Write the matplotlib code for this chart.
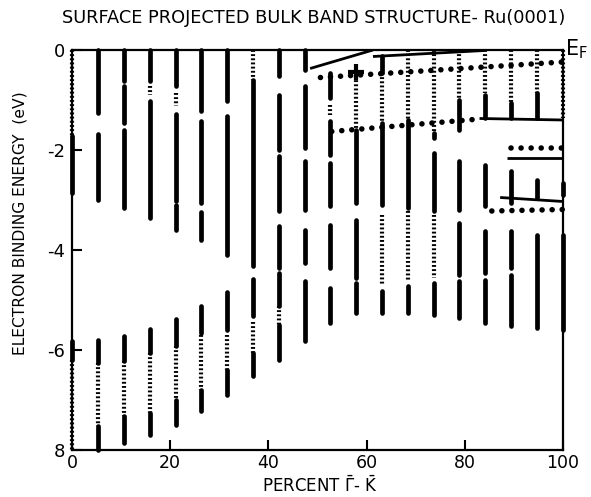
import matplotlib
matplotlib.use('Agg')
import matplotlib.pyplot as plt

# k-point columns along Gamma-K (percent)
k_percent = [0, 5.3, 10.5, 15.8, 21.1, 26.3, 31.6, 36.8, 42.1, 47.4,
             52.6, 57.9, 63.2, 68.4, 73.7, 78.9, 84.2, 89.5, 94.7, 100]

# densely filled bulk band ranges for each column, (top, bottom) in eV
dense_bands = [
    [(-1.73, -2.87), (-5.83, -6.2)],
    [(0.0, -1.27), (-1.69, -3.0), (-5.8, -6.27), (-7.53, -8.0)],
    [(0.0, -0.63), (-0.73, -1.47), (-1.61, -3.17), (-5.73, -6.23), (-7.33, -7.87)],
    [(0.0, -0.63), (-1.02, -3.37), (-5.59, -6.07), (-7.27, -7.7)],
    [(0.0, -0.73), (-1.28, -3.03), (-3.1, -3.6), (-5.39, -5.93), (-7.0, -7.5)],
    [(0.0, -1.23), (-1.43, -3.07), (-3.25, -3.8), (-5.13, -5.67), (-6.8, -7.23)],
    [(0.0, -1.03), (-1.32, -4.1), (-4.85, -5.6), (-6.4, -6.9)],
    [(-0.6, -4.33), (-4.59, -5.33), (-6.07, -6.53)],
    [(0.0, -0.53), (-0.9, -2.0), (-2.13, -3.23), (-3.53, -4.37), (-4.47, -5.13), (-5.5, -6.2)],
    [(0.0, -0.4), (-0.73, -1.97), (-2.23, -3.2), (-3.6, -4.27), (-4.63, -5.83)],
    [(-0.47, -0.97), (-1.43, -2.1), (-2.27, -3.13), (-3.5, -4.37), (-4.77, -5.47)],
    [(-1.6, -3.07), (-3.4, -4.57), (-4.67, -5.27)],
    [(-0.13, -0.47), (-1.47, -3.1), (-4.83, -5.27)],
    [(-1.4, -3.17), (-4.73, -5.27)],
    [(-1.67, -1.77), (-2.07, -3.23), (-4.67, -5.3)],
    [(-1.0, -1.6), (-2.23, -3.2), (-3.47, -4.5), (-4.63, -5.37)],
    [(-0.9, -1.37), (-2.3, -3.13), (-3.63, -4.47), (-4.6, -5.47)],
    [(-1.07, -1.37), (-2.43, -3.07), (-3.63, -4.37), (-4.5, -5.53)],
    [(-0.87, -1.37), (-2.6, -2.97), (-3.7, -5.57)],
    [(-2.67, -2.9), (-3.7, -5.6)],
]

# loosely dotted bulk band ranges for each column
sparse_bands = [
    [(0.0, -1.73), (-6.2, -8.0)],
    [(-6.27, -7.53)],
    [(-6.23, -7.33)],
    [(-0.73, -0.9), (-6.07, -7.27)],
    [(-0.87, -1.13), (-5.93, -7.0)],
    [(-5.7, -6.8)],
    [(-5.7, -6.4)],
    [(0.0, -0.6), (-5.45, -6.07)],
    [(-5.13, -5.5)],
    [],
    [(-1.1, -1.3)],
    [(-0.53, -1.6)],
    [(-0.47, -1.47), (-3.3, -4.7)],
    [(0.0, -1.4), (-3.23, -4.63)],
    [(0.0, -1.67), (-3.3, -4.57)],
    [(0.0, -1.0)],
    [(0.0, -0.87)],
    [(0.0, -1.07)],
    [(0.0, -0.87)],
    [(0.0, -1.37)],
]

# surface states: solid lines
solid_x = [[48.5, 61.3], [61.3, 84.0], [83.0, 100], [88.5, 100], [87.2, 100]]
solid_e = [[-0.37, 0.0], [-0.13, -0.01], [-1.37, -1.40], [-2.17, -2.17], [-2.95, -3.03]]

# surface states: dotted lines
dotted_x = [[50.6, 100], [52.9, 83.0], [89.5, 100], [85.5, 100]]
dotted_e = [[-0.55, -0.24], [-1.63, -1.38], [-1.97, -1.97], [-3.22, -3.19]]

cross_x = [57.9]
cross_e = [-0.45]

fig = plt.figure(figsize=(5.91, 4.97), dpi=100)
ax = fig.add_axes([0.1218, 0.0946, 0.8308, 0.8048])

for k, bands in zip(k_percent, dense_bands):
    for top, bot in bands:
        ax.plot([k, k], [top, bot], color='black', lw=3.4,
                solid_capstyle='round', clip_on=False)

for k, bands in zip(k_percent, sparse_bands):
    for top, bot in bands:
        ax.plot([k, k], [top, bot], color='black', lw=3.0, clip_on=False,
                linestyle=(0, (0.45, 0.55)), dash_capstyle='butt')

for xs, es in zip(solid_x, solid_e):
    ax.plot(xs, es, color='black', lw=2.0, solid_capstyle='butt')

for xs, es in zip(dotted_x, dotted_e):
    ax.plot(xs, es, color='black', lw=4.0, linestyle=(0, (0.01, 1.8)),
            dash_capstyle='round', clip_on=False)

ax.plot(cross_x, cross_e, marker='+', color='black', markersize=12, mew=3, ls='none')

ax.set_xlim(0, 100)
ax.set_ylim(-8, 0)
ax.set_xticks([0, 20, 40, 60, 80, 100])
ax.set_xticklabels(['0', '20', '40', '60', '80', '100'])
ax.set_yticks([0, -2, -4, -6, -8])
ax.set_yticklabels(['0', '-2', '-4', '-6', '8'])
ax.tick_params(direction='in', length=7, width=1.5, labelsize=13, pad=5)
ax.tick_params(axis='x', top=False, pad=3, labelsize=12.5)
ax.tick_params(axis='y', right=False)
for s in ax.spines.values():
    s.set_linewidth(1.6)

fig.text(0.531, 0.964, 'SURFACE PROJECTED BULK BAND STRUCTURE- Ru(0001)',
         ha='center', va='center', fontsize=12.8)
fig.text(0.034, 0.55, 'ELECTRON BINDING ENERGY  (eV)', rotation=90,
         ha='center', va='center', fontsize=11.2)
fig.text(0.541, 0.003, r'PERCENT $\bar{\Gamma}$- $\bar{\mathrm{K}}$',
         ha='center', va='bottom', fontsize=12)
fig.text(0.975, 0.9, r'E$_\mathrm{F}$', ha='center', va='center', fontsize=15)

plt.savefig('out.png', dpi=100)
